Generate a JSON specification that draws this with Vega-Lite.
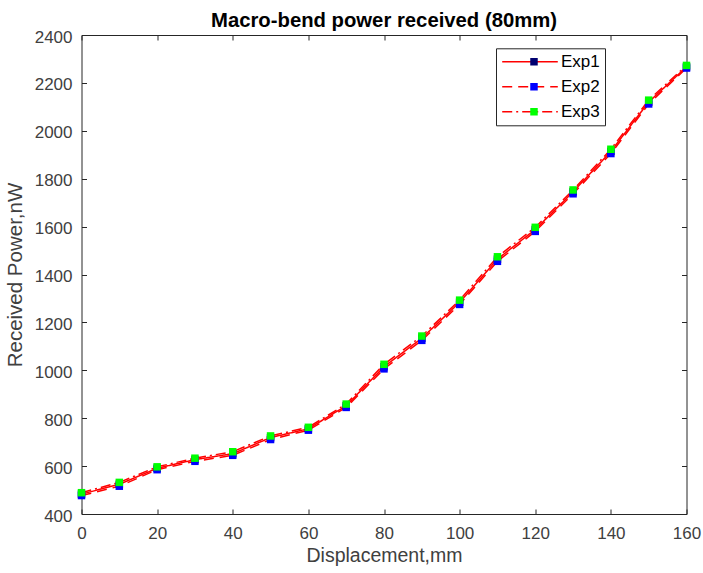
{
  "$schema": "https://vega.github.io/schema/vega-lite/v6.json",
  "width": 605,
  "height": 479,
  "autosize": {"type": "none"},
  "padding": {"left": 81.5, "top": 35, "right": 16.5, "bottom": 59},
  "background": "white",
  "title": {"text": "Macro-bend power received (80mm)", "font": "Liberation Sans", "fontSize": 20.3, "fontWeight": "bold", "color": "#000000", "anchor": "middle", "offset": -3.5},
  "config": {
    "view": {"stroke": null},
    "axis": {"domainColor": "#262626", "tickColor": "#262626", "labelColor": "#404040", "titleColor": "#404040", "labelFont": "Liberation Sans", "titleFont": "Liberation Sans", "labelFontSize": 17, "titleFontSize": 20.5, "titleFontWeight": "normal", "grid": false, "tickSize": -5, "domainWidth": 1, "tickWidth": 1, "labelFlush": false}
  },
  "data": {"values": [
    {"displacement": 0, "power": 483, "series": "Exp1"},
    {"displacement": 10, "power": 524, "series": "Exp1"},
    {"displacement": 20, "power": 591, "series": "Exp1"},
    {"displacement": 30, "power": 627, "series": "Exp1"},
    {"displacement": 40, "power": 652, "series": "Exp1"},
    {"displacement": 50, "power": 719, "series": "Exp1"},
    {"displacement": 60, "power": 756, "series": "Exp1"},
    {"displacement": 70, "power": 852, "series": "Exp1"},
    {"displacement": 80, "power": 1015, "series": "Exp1"},
    {"displacement": 90, "power": 1134, "series": "Exp1"},
    {"displacement": 100, "power": 1284, "series": "Exp1"},
    {"displacement": 110, "power": 1464, "series": "Exp1"},
    {"displacement": 120, "power": 1588, "series": "Exp1"},
    {"displacement": 130, "power": 1745, "series": "Exp1"},
    {"displacement": 140, "power": 1914, "series": "Exp1"},
    {"displacement": 150, "power": 2120, "series": "Exp1"},
    {"displacement": 160, "power": 2267, "series": "Exp1"},
    {"displacement": 0, "power": 477, "series": "Exp2"},
    {"displacement": 10, "power": 516, "series": "Exp2"},
    {"displacement": 20, "power": 585, "series": "Exp2"},
    {"displacement": 30, "power": 620, "series": "Exp2"},
    {"displacement": 40, "power": 645, "series": "Exp2"},
    {"displacement": 50, "power": 711, "series": "Exp2"},
    {"displacement": 60, "power": 750, "series": "Exp2"},
    {"displacement": 70, "power": 845, "series": "Exp2"},
    {"displacement": 80, "power": 1006, "series": "Exp2"},
    {"displacement": 90, "power": 1125, "series": "Exp2"},
    {"displacement": 100, "power": 1275, "series": "Exp2"},
    {"displacement": 110, "power": 1455, "series": "Exp2"},
    {"displacement": 120, "power": 1580, "series": "Exp2"},
    {"displacement": 130, "power": 1737, "series": "Exp2"},
    {"displacement": 140, "power": 1905, "series": "Exp2"},
    {"displacement": 150, "power": 2112, "series": "Exp2"},
    {"displacement": 160, "power": 2262, "series": "Exp2"},
    {"displacement": 0, "power": 489, "series": "Exp3"},
    {"displacement": 10, "power": 532, "series": "Exp3"},
    {"displacement": 20, "power": 597, "series": "Exp3"},
    {"displacement": 30, "power": 633, "series": "Exp3"},
    {"displacement": 40, "power": 660, "series": "Exp3"},
    {"displacement": 50, "power": 726, "series": "Exp3"},
    {"displacement": 60, "power": 762, "series": "Exp3"},
    {"displacement": 70, "power": 859, "series": "Exp3"},
    {"displacement": 80, "power": 1025, "series": "Exp3"},
    {"displacement": 90, "power": 1143, "series": "Exp3"},
    {"displacement": 100, "power": 1293, "series": "Exp3"},
    {"displacement": 110, "power": 1474, "series": "Exp3"},
    {"displacement": 120, "power": 1597, "series": "Exp3"},
    {"displacement": 130, "power": 1753, "series": "Exp3"},
    {"displacement": 140, "power": 1923, "series": "Exp3"},
    {"displacement": 150, "power": 2128, "series": "Exp3"},
    {"displacement": 160, "power": 2273, "series": "Exp3"}
  ]},
  "layer": [
    {
      "mark": {"type": "line", "color": "#ff0000", "strokeWidth": 1.5},
      "encoding": {
        "x": {"field": "displacement", "type": "quantitative", "scale": {"domain": [0, 160], "nice": false},
          "axis": {"orient": "bottom", "values": [0, 20, 40, 60, 80, 100, 120, 140, 160], "format": "d", "labelPadding": 16.5, "title": "Displacement,mm", "titleFontSize": 19.5, "titlePadding": 5}},
        "y": {"field": "power", "type": "quantitative", "scale": {"domain": [400, 2400], "nice": false, "zero": false},
          "axis": {"orient": "left", "values": [400, 600, 800, 1000, 1200, 1400, 1600, 1800, 2000, 2200, 2400], "format": "d", "labelPadding": 14.5, "labelOffset": 2, "title": "Received Power,nW", "titlePadding": 9}},
        "strokeDash": {"field": "series", "type": "nominal",
          "scale": {"domain": ["Exp1", "Exp2", "Exp3"], "range": [[1, 0], [10, 6], [10, 4, 2, 4]]},
          "legend": {"orient": "none", "legendX": 414.5, "legendY": 13.3, "title": null, "symbolType": "stroke", "symbolSize": 3090, "symbolStrokeColor": "#ff0000", "symbolStrokeWidth": 1.5, "clipHeight": 16.8, "rowPadding": 7, "padding": 5, "labelOffset": 2, "labelFontSize": 17, "labelFont": "Liberation Sans", "labelColor": "#000000", "strokeColor": "#262626", "cornerRadius": 0}}
      }
    },
    {
      "mark": {"type": "point", "shape": "square", "filled": true, "size": 56, "opacity": 1},
      "encoding": {
        "x": {"field": "displacement", "type": "quantitative", "axis": {"orient": "top", "values": [0, 20, 40, 60, 80, 100, 120, 140, 160], "labels": false, "title": null}},
        "y": {"field": "power", "type": "quantitative", "axis": {"orient": "right", "values": [400, 600, 800, 1000, 1200, 1400, 1600, 1800, 2000, 2200, 2400], "labels": false, "title": null}},
        "fill": {"field": "series", "type": "nominal",
          "scale": {"range": ["#000070", "#0000ff", "#00ff00"]},
          "legend": {"orient": "none", "legendX": 439, "legendY": 13.3, "title": null, "symbolType": "square", "symbolSize": 56, "symbolStrokeWidth": 0, "symbolOpacity": 1, "clipHeight": 16.8, "rowPadding": 7, "padding": 5, "labelFontSize": 17, "labelFont": "Liberation Sans", "labelExpr": "''", "labelOpacity": 0}}
      }
    }
  ],
  "resolve": {"axis": {"x": "independent", "y": "independent"}}
}
